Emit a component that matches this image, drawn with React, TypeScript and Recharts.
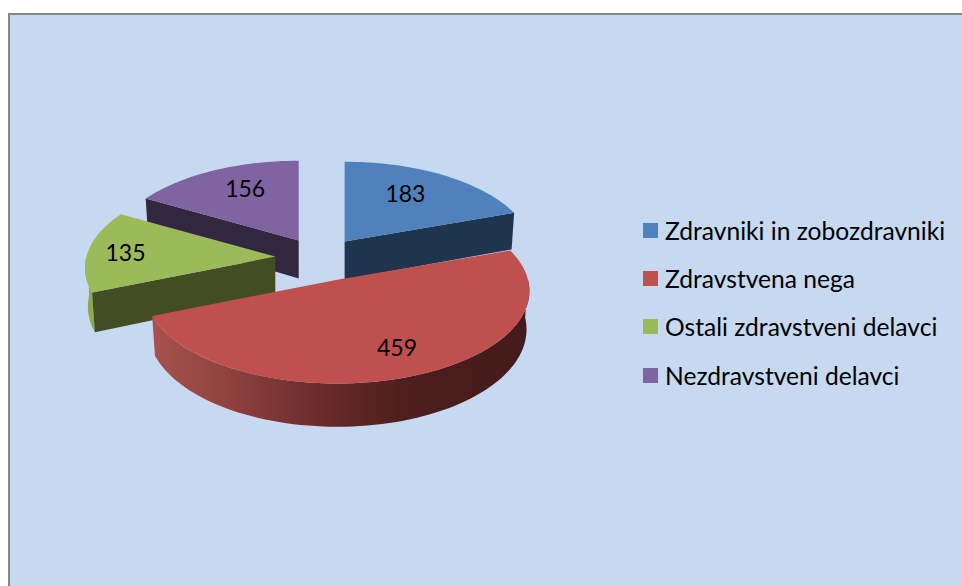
import React from "react";
import { PieChart, Pie, Legend } from "recharts";

const categories = ["Zdravniki in zobozdravniki", "Zdravstvena nega", "Ostali zdravstveni delavci", "Nezdravstveni delavci"];
const values = [183, 459, 135, 156];

const topColors = ["#4F81BD", "#C0504D", "#9BBB59", "#8064A2"];
const wallColors = ["#1F344E", "#6B2A28", "#424D22", "#33263F"];
const arcWallColors = ["#3A5F8C", "url(#redWall)", "#8CA851", "#5C4875"];
const sliceScale = [1, 1.02, 1.01, 1];
const explodeScale = [1, 1.08, 1.03, 1];
const labelRadius = [0.68, 0.74, 0.8, 0.706];
const labelDrift = [-4.5, -2, 0, 4.2];
const paintOrder = [3, 0, 2, 1];

const FONT = "Lato, 'Open Sans', sans-serif";
const CX = 320;
const CY = 258;
const RADIUS = 187;
const SQUASH = 0.478;
const PERSPECTIVE = 0.122;
const EXPLODE = 0.233;
const DEPTH = 38;
const BOTTOM_SHRINK = 0.985;

const chartData = categories.map((name, i) => ({ name, value: values[i], fill: topColors[i] }));

const rad = (d: number) => (d * Math.PI) / 180;

// clockwise-from-north angle on a unit disc, projected to tilted perspective offsets
function project(theta: number, r: number, radius: number) {
  const X = r * Math.sin(rad(theta));
  const Y = r * Math.cos(rad(theta));
  const s = 1 / (1 + PERSPECTIVE * Y);
  return { x: X * radius * s, y: -Y * radius * SQUASH * s, s };
}

function apexOf(cx: number, cy: number, radius: number, mid: number, idx: number) {
  const p = project(mid, EXPLODE * explodeScale[idx], radius);
  return { x: cx + p.x, y: cy + p.y };
}

function arc(a: number, b: number) {
  const n = Math.max(2, Math.ceil(Math.abs(b - a) / 2));
  const out: number[] = [];
  for (let i = 0; i <= n; i++) out.push(a + ((b - a) * i) / n);
  return out;
}

const toPath = (pts: { x: number; y: number }[]) =>
  "M" + pts.map((p) => `${p.x.toFixed(2)},${p.y.toFixed(2)}`).join("L") + "Z";

function Slice(props: any) {
  const idx = categories.indexOf(props.name);
  const t0 = 90 - props.startAngle;
  const t1 = 90 - props.endAngle;
  const mid = (t0 + t1) / 2;
  const radius = props.outerRadius * sliceScale[idx];
  const apex = apexOf(props.cx, props.cy, props.outerRadius, mid, idx);
  const top = (t: number) => {
    const p = project(t, 1, radius);
    return { x: apex.x + p.x, y: apex.y + p.y };
  };
  const bottom = (t: number) => {
    const p = project(t, 1, radius);
    return { x: apex.x + p.x * BOTTOM_SHRINK, y: apex.y + p.y + DEPTH * p.s };
  };
  const apexLow = { x: apex.x, y: apex.y + DEPTH };
  const topPts = [apex, ...arc(t0, t1).map(top)];

  const walls: React.ReactNode[] = [];
  // straight cut faces that look toward the viewer
  [t0, t1].forEach((t, k) => {
    const sin = Math.sin(rad(t));
    const faces = k === 1 ? sin > 0.01 : sin < -0.01;
    if (faces) {
      walls.push(<path key={"cut" + k} d={toPath([apex, top(t), bottom(t), apexLow])} fill={wallColors[idx]} />);
    }
  });
  // outer rim that faces the viewer
  const a = Math.max(t0, 90);
  const b = Math.min(t1, 270);
  if (b > a) {
    const fwd = arc(a, b);
    walls.unshift(
      <path key="rim" d={toPath([...fwd.map(top), ...fwd.slice().reverse().map(bottom)])} fill={arcWallColors[idx]} />
    );
  }
  return (
    <g>
      <linearGradient id="redWall" x1="0" y1="0" x2="1" y2="0">
        <stop offset="0" stopColor="#A8524F" />
        <stop offset="0.2" stopColor="#8F4240" />
        <stop offset="0.5" stopColor="#632726" />
        <stop offset="0.66" stopColor="#4E1F1E" />
        <stop offset="1" stopColor="#431B1A" />
      </linearGradient>
      {walls}
      <path d={toPath(topPts)} fill={props.fill} />
    </g>
  );
}

function SliceLabel(props: any) {
  const idx = categories.indexOf(props.name);
  const mid = 90 - props.midAngle;
  const apex = apexOf(props.cx, props.cy, props.outerRadius, mid, idx);
  const p = project(mid + labelDrift[idx], labelRadius[idx], props.outerRadius * sliceScale[idx]);
  return (
    <text
      x={apex.x + p.x}
      y={apex.y + p.y}
      textAnchor="middle"
      dominantBaseline="central"
      fontFamily={FONT}
      fontSize={23}
      fill="#000"
    >
      {props.value}
    </text>
  );
}

function LegendBody(props: any) {
  const payload = props.payload || [];
  const rows = categories
    .map((name) => payload.find((entry: any) => entry.value === name))
    .filter(Boolean);
  return (
    <div style={{ fontFamily: FONT, fontSize: 24.6, color: "#000" }}>
      {rows.map((entry: any) => (
        <div key={entry.value} style={{ display: "flex", alignItems: "center", height: 48.3, whiteSpace: "nowrap" }}>
          <span style={{ width: 15, height: 15, background: entry.color, marginRight: 7, flex: "none" }} />
          <span>{entry.value}</span>
        </div>
      ))}
    </div>
  );
}

export default function App() {
  return (
    <div style={{ position: "absolute", left: 0, top: 0, width: 962, height: 586, overflow: "hidden", background: "#fff" }}>
      <div
        style={{
          position: "absolute",
          left: 8,
          top: 13,
          width: 954,
          height: 573,
          boxSizing: "border-box",
          background: "#C6D9F1",
          borderTop: "2px solid #868686",
          borderLeft: "2px solid #868686",
        }}
      />
      <div style={{ position: "absolute", left: 0, top: 0 }}>
        <PieChart width={962} height={586} margin={{ top: 0, right: 0, bottom: 0, left: 0 }}>
          {paintOrder.map((layer, i) => (
            <Pie
              key={layer}
              data={chartData}
              dataKey="value"
              nameKey="name"
              cx={CX}
              cy={CY}
              innerRadius={0}
              outerRadius={RADIUS}
              startAngle={90}
              endAngle={-270}
              stroke="none"
              isAnimationActive={false}
              legendType={i === 0 ? "square" : "none"}
              labelLine={false}
              label={i === paintOrder.length - 1 ? SliceLabel : false}
              shape={(p: any) => (categories.indexOf(p.name) === layer ? <Slice {...p} /> : <g />)}
            />
          ))}
          <Legend
            layout="vertical"
            align="right"
            verticalAlign="top"
            itemSorter={null as any}
            content={LegendBody}
            wrapperStyle={{ position: "absolute", left: 643, top: 206, right: "auto", width: 319, margin: 0 }}
          />
        </PieChart>
      </div>
    </div>
  );
}
